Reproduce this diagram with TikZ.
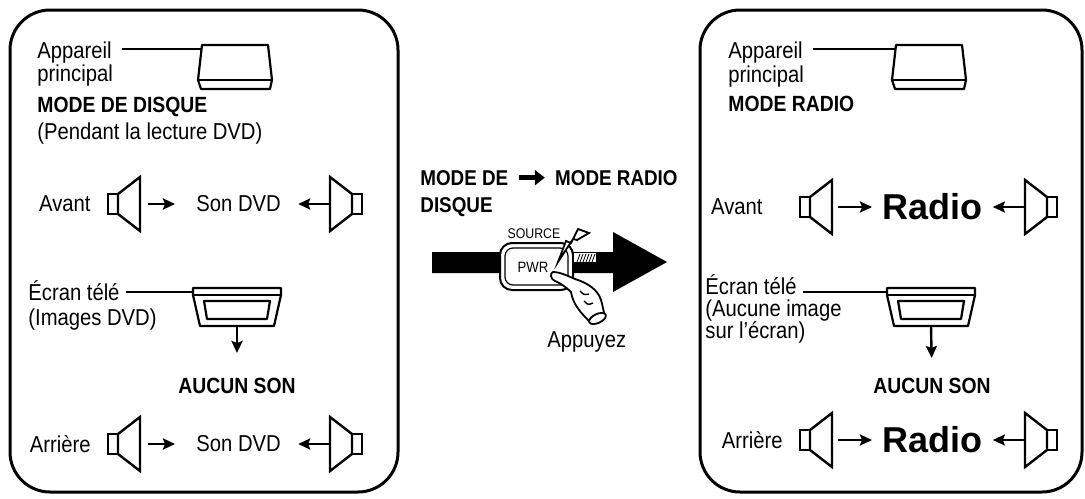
\documentclass[tikz,border=0pt]{standalone}
\usepackage{fontspec}
\setmainfont{Liberation Sans}[FakeStretch=0.88]
\newfontfamily\widefont{Liberation Sans}
\usetikzlibrary{arrows.meta}

\tikzset{
  % loudspeaker, mouth at the origin, opening to the right
  spk/.pic={
    \draw[line width=1.2pt, fill=white] (-32,-10) rectangle (-22,10);
    \draw[line width=1.2pt, line join=miter, fill=white] (-22,-10) -- (0,-27) -- (0,27) -- (-22,10) -- cycle;
    \coordinate (-mouth) at (0,0);
  },
  % main unit, seen from the front
  unit/.pic={
    \draw[line width=1.1pt, line join=round, fill=white] (-33,0) -- (33,0) -- (37,35) -- (35,44) -- (-34,44) -- (-37,35) -- cycle;
    \draw[line width=1.1pt] (-37,35) -- (37,35);
    \coordinate (-left) at (-34,4);
  },
  % tv set
  tv/.pic={
    \draw[line width=1.1pt, line join=round, fill=white] (-44,0) -- (44,0) -- (44,7) -- (37,38) -- (-37,38) -- (-44,7) -- cycle;
    \draw[line width=1.1pt] (-44,7) -- (44,7);
    \draw[line width=1.1pt, line join=round] (-33,13) -- (33,13) -- (30,31) -- (-30,31) -- cycle;
    \coordinate (-left) at (-44,4);
    \coordinate (-base) at (0,38);
  },
}

\begin{document}
\begin{tikzpicture}[x=0.5pt, y=-0.5pt,
  lbl/.style={inner sep=0pt, font=\fontsize{11.5}{13}\selectfont},
  hd/.style={inner sep=0pt, font=\fontsize{11}{13}\selectfont\bfseries},
  mid/.style={inner sep=0pt, font=\fontsize{10.7}{13}\selectfont\bfseries},
  big/.style={inner sep=0pt, font=\widefont\fontsize{18}{20}\selectfont\bfseries},
  frame/.style={line width=1.5pt, rounded corners=20pt},
  arr/.style={line width=1.2pt, -{Stealth[length=6pt, width=5.5pt, inset=1pt]}},
  lead/.style={line width=0.8pt},
  hand/.style={line width=0.9pt, fill=white, line join=round}]
\useasboundingbox (0,0) rectangle (1085,498);

% disc mode
\draw[frame] (10,10) rectangle (398,492);
\node[lbl, anchor=base west] (appA) at (37,58) {Appareil};
\node[lbl, anchor=base west] (prA) at (37,81) {principal};
\node[hd, anchor=base west] (modeA) at (37,112) {MODE DE DISQUE};
\node[lbl, anchor=base west] (lectA) at (37,139) {(Pendant la lecture DVD)};
\pic (unitA) at (235,45) {unit};
\draw[lead, shorten <=5pt] (appA.east |- unitA-left) -- (unitA-left);

\node[lbl, anchor=east] (avA) at (91,204) {Avant};
\pic (sA1) at (140,204) {spk};
\node[lbl, anchor=west] (sonA1) at (196,204) {Son DVD};
\pic[xscale=-1] (sA2) at (330,204) {spk};
\draw[arr, shorten <=4pt, shorten >=10.5pt] (sA1-mouth) -- (sonA1.west);
\draw[arr, shorten >=8.5pt] (sA2-mouth) -- (sonA1.east);

\node[lbl, anchor=base west] (ecA) at (28,300) {Écran télé};
\node[lbl, anchor=base west] (imA) at (28,325) {(Images DVD)};
\pic (tvA) at (237,288) {tv};
\draw[lead, shorten <=3pt] (ecA.east |- tvA-left) -- (tvA-left);
\node[hd, anchor=north] (nsA) at (237,378) {AUCUN SON};
\draw[arr, shorten >=12.5pt] (tvA-base) -- (nsA.north);

\node[lbl, anchor=east] (arA) at (91,444) {Arrière};
\pic (sA3) at (140,444) {spk};
\node[lbl, anchor=west] (sonA2) at (196,444) {Son DVD};
\pic[xscale=-1] (sA4) at (330,444) {spk};
\draw[arr, shorten <=4pt, shorten >=10.5pt] (sA3-mouth) -- (sonA2.west);
\draw[arr, shorten >=8.5pt] (sA4-mouth) -- (sonA2.east);

% switching over
\node[mid, anchor=base west] (fromM) at (420,185) {MODE DE};
\node[mid, anchor=base west] (fromM2) at (420,212) {DISQUE};
\node[mid, anchor=base east] (toM) at (678,185) {MODE RADIO};
\draw[line width=2.5pt, -{Triangle[length=5pt, width=7.5pt]}, shorten <=5pt, shorten >=5pt] (fromM.east) -- (toM.west);

\fill (432,252) -- (613,252) -- (613,232) -- (667,262) -- (613,292) -- (613,273) -- (432,273) -- cycle;
\draw[line width=1pt, fill=white, rounded corners=6pt] (500,243) rectangle (573,290);
\draw[line width=0.6pt, rounded corners=4pt] (505,248) rectangle (568,285);
\node[inner sep=0pt, font=\fontsize{7.5}{8}\selectfont] (pwr) at (533,267) {PWR};
\node[inner sep=0pt, anchor=base, font=\fontsize{7}{8}\selectfont] (src) at (534,238) {SOURCE};
\fill[white] (574,253) rectangle (596,262);
\foreach \i in {0,...,5}
  \draw[line width=0.4pt] (577+3*\i,262) -- (580+3*\i,254);
\draw[line width=0.9pt, fill=white, line join=miter] (558,262) -- (566,241) -- (571,243) -- (578,229) -- (589,233) -- (577,240) -- (573,239) -- cycle;
\draw[hand] (553,272) .. controls (560,272) and (568,276) .. (575,279)
  .. controls (588,283) and (598,290) .. (601,300)
  .. controls (603,306) and (603,311) .. (605,315)
  -- (590,322)
  .. controls (582,314) and (573,305) .. (571,292)
  .. controls (566,287) and (560,283) .. (555,281)
  .. controls (550,279) and (550,273) .. (553,272) -- cycle;
\draw[hand] (597.5,318.5) ellipse [x radius=9, y radius=4.5, rotate=25];
\draw[line width=0.7pt] (580,291) .. controls (584,295) .. (589,294);
\draw[line width=0.7pt] (584,301) .. controls (588,305) .. (593,303);
\node[lbl, anchor=base west] (push) at (547,347) {Appuyez};

% radio mode
\draw[frame] (700,10) rectangle (1082,492);
\node[lbl, anchor=base west] (appB) at (728,58) {Appareil};
\node[lbl, anchor=base west] (prB) at (728,82) {principal};
\node[hd, anchor=base west] (modeB) at (728,111) {MODE RADIO};
\pic (unitB) at (929,45) {unit};
\draw[lead, shorten <=5pt] (appB.east |- unitB-left) -- (unitB-left);

\node[lbl, anchor=east] (avB) at (763,207) {Avant};
\pic (sB1) at (832,207) {spk};
\node[big, anchor=west] (radB1) at (882,207) {Radio};
\pic[xscale=-1] (sB2) at (1025,207) {spk};
\draw[arr, shorten <=3pt, shorten >=5pt] (sB1-mouth) -- (radB1.west);
\draw[arr, shorten >=5pt] (sB2-mouth) -- (radB1.east);

\node[lbl, anchor=base west] (ecB) at (705,294) {Écran télé};
\node[lbl, anchor=base west] (imB) at (705,316) {(Aucune image};
\node[lbl, anchor=base west] (imB2) at (705,338) {sur l'écran)};
\pic (tvB) at (931,288) {tv};
\draw[lead, shorten <=3pt] (ecB.east |- tvB-left) -- (tvB-left);
\node[hd, anchor=north] (nsB) at (932,378) {AUCUN SON};
\draw[arr, shorten >=10pt] (tvB-base) -- (nsB.north);

\node[lbl, anchor=east] (arB) at (783,440) {Arrière};
\pic (sB3) at (832,440) {spk};
\node[big, anchor=west] (radB2) at (882,440) {Radio};
\pic[xscale=-1] (sB4) at (1025,440) {spk};
\draw[arr, shorten <=3pt, shorten >=5pt] (sB3-mouth) -- (radB2.west);
\draw[arr, shorten >=5pt] (sB4-mouth) -- (radB2.east);
\end{tikzpicture}
\end{document}
